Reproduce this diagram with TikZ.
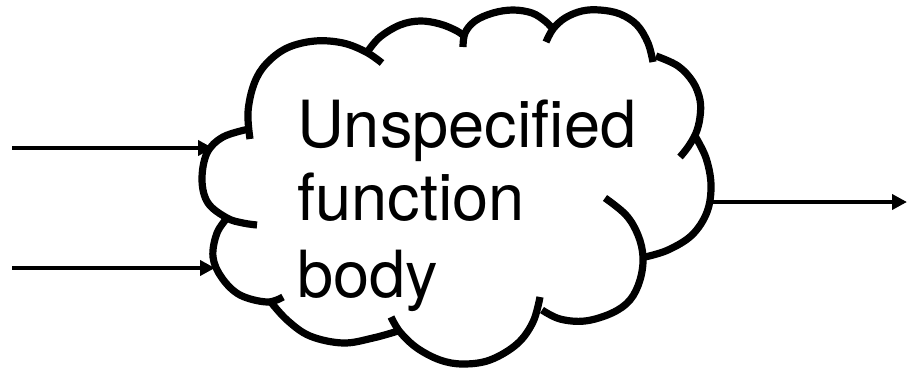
\documentclass[tikz,border=0pt]{standalone}
\usepackage{fontspec}
\setmainfont{TeX Gyre Heros}
\usetikzlibrary{arrows.meta}
\begin{document}
\begin{tikzpicture}[x=1pt,y=-1pt,
  cloudline/.style={line width=7.2pt, line join=round},
  flow/.style={line width=4.2pt, -{Triangle[length=15pt,width=15pt]}},
  fntext/.style={anchor=base west, inner sep=0pt, font=\fontsize{65}{75}\selectfont}]
\useasboundingbox[fill=white] (0,0) rectangle (910,370);
% cloud lobes
\draw[cloudline] plot[smooth, tension=0.6] coordinates {(249,129) (223,137) (207,153) (202,180) (208,203) (227,218) (243,223) (257,225)};
\draw[cloudline] plot[smooth, tension=0.6] coordinates {(250,139) (248,112) (254,84) (266,64) (287,48) (315,41) (343,43) (366,52) (382,63)};
\draw[cloudline] plot[smooth, tension=0.6] coordinates {(368,51) (380,37) (400,25) (420,21) (440,24) (457,31) (465,37)};
\draw[cloudline] plot[smooth, tension=0.6] coordinates {(463,47) (465,33) (475,21) (493,13) (513,10) (532,13) (545,21) (553,29)};
\draw[cloudline] plot[smooth, tension=0.6] coordinates {(546,42) (553,29) (565,18) (582,11) (600,10) (620,14) (637,25) (648,43) (653,62)};
\draw[cloudline] plot[smooth, tension=0.6] coordinates {(656,56) (678,66) (693,82) (700,100) (700,117) (696,133) (688,147) (680,157)};
\draw[cloudline] plot[smooth, tension=0.6] coordinates {(695,136) (706,158) (711,185) (707,212) (692,235) (668,250) (645,257)};
\draw[cloudline] plot[smooth, tension=0.6] coordinates {(605,198) (626,215) (638,235) (643,257) (640,280) (630,300) (612,313) (585,321) (560,319) (542,310)};
\draw[cloudline] plot[smooth, tension=0.6] coordinates {(391,317) (400,332) (417,348) (440,360) (463,364) (490,360) (517,344) (533,322) (540,297)};
\draw[cloudline] plot[smooth, tension=0.6] coordinates {(270,301) (287,320) (310,336) (343,343) (373,338) (398,331)};
\draw[cloudline] plot[smooth, tension=0.6] coordinates {(228,217) (217,233) (213,257) (222,278) (240,295) (267,302) (283,297)};
% text
\node[fntext] (t1) at (297,147) {Unspecified};
\node[fntext] (t2) at (297,220) {function};
\node[fntext] (t3) at (297,297) {body};
% connectors
\coordinate (in1) at (12,148);
\coordinate (c1) at (213,148);
\coordinate (in2) at (12,268);
\coordinate (c2) at (215,268);
\coordinate (c3) at (711,202);
\coordinate (out) at (907,202);
\draw[flow] (in1) -- (c1);
\draw[flow] (in2) -- (c2);
\draw[flow] (c3) -- (out);
\end{tikzpicture}
\end{document}
